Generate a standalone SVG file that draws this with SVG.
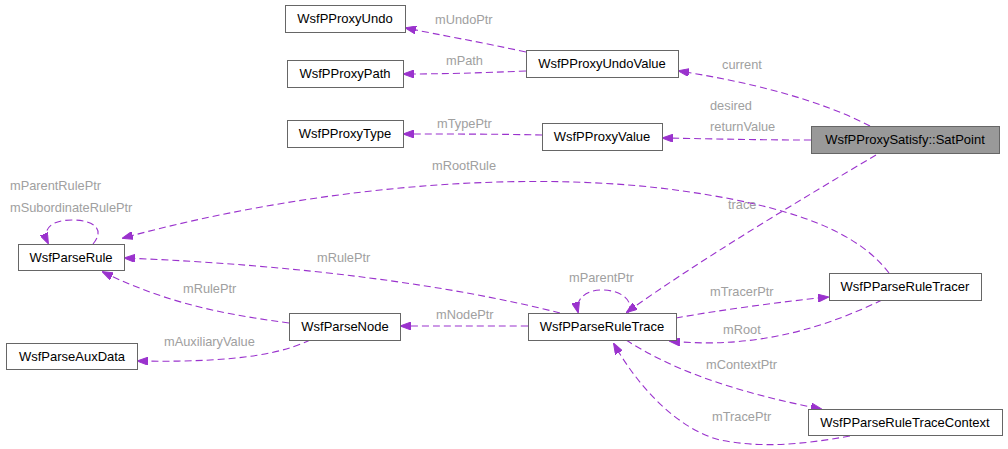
<svg xmlns="http://www.w3.org/2000/svg" width="1008" height="449" viewBox="0 0 1008 449">
<defs>
<marker id="ah" markerWidth="11" markerHeight="8" refX="10" refY="4" orient="auto" markerUnits="userSpaceOnUse"><path d="M0,0 L11,4 L0,8 z" fill="#9a32cd" stroke="#9a32cd"/></marker>
<style>
.n rect{fill:#fff;stroke:#666;stroke-width:1}
.n text{font-family:"Liberation Sans",Arial,sans-serif;font-size:13px;fill:#000;text-anchor:middle}
#e path{fill:none;stroke:#9a32cd;stroke-width:1.1;stroke-dasharray:7,4;marker-end:url(#ah)}
#e text{font-family:"Liberation Sans",Arial,sans-serif;font-size:12.8px;fill:#a0a0a0}
</style>
</defs>
<rect width="1008" height="449" fill="#fff"/>
<g id="e">
<path d="M526,52 C480,42 440,35 406,28"/>
<text x="435" y="24">mUndoPtr</text>
<path d="M526,71 C480,73 440,74 404,74"/>
<text x="446" y="65">mPath</text>
<path d="M542,135 C500,134 450,134 404,134"/>
<text x="437" y="128">mTypePtr</text>
<path d="M870,126 C820,100 750,82 679,71"/>
<text x="722" y="69">current</text>
<path d="M811,140 C760,140 720,139 663,138"/>
<text x="710" y="110">desired</text>
<text x="710" y="131">returnValue</text>
<path d="M876,155 C800,200 700,260 627,312"/>
<text x="728" y="209">trace</text>
<path d="M889,273 C860,235 800,205 660,188 C500,170 300,190 123,238"/>
<text x="432" y="170">mRootRule</text>
<path d="M93,244 C105,230 95,220 72,220 C50,220 42,230 48,243"/>
<text x="10" y="190">mParentRulePtr</text>
<text x="10" y="212">mSubordinateRulePtr</text>
<path d="M560,313 C450,285 300,265 125,258"/>
<text x="317" y="262">mRulePtr</text>
<path d="M289,323 C230,315 170,305 103,272"/>
<text x="183" y="293">mRulePtr</text>
<path d="M310,340 C270,360 200,362 138,361"/>
<text x="164" y="346">mAuxiliaryValue</text>
<path d="M528,326 C480,326 440,326 401,326"/>
<text x="436" y="319">mNodePtr</text>
<path d="M628,313 C635,300 620,290 602,290 C585,290 575,300 578,312"/>
<text x="569" y="282">mParentPtr</text>
<path d="M676,318 C720,310 780,302 828,297"/>
<text x="710" y="296">mTracerPtr</text>
<path d="M882,300 C830,325 760,350 670,341"/>
<text x="723" y="334">mRoot</text>
<path d="M626,340 C680,375 750,395 821,409"/>
<text x="706" y="369">mContextPtr</text>
<path d="M850,436 C800,445 760,448 720,440 C680,430 640,390 614,344"/>
<text x="712" y="421">mTracePtr</text>
</g>
<g id="n1" class="n"><rect x="285.5" y="5.5" width="120" height="27"/><text x="345" y="23">WsfPProxyUndo</text></g>
<g id="n2" class="n"><rect x="287.5" y="60.5" width="116" height="27"/><text x="345" y="78">WsfPProxyPath</text></g>
<g id="n3" class="n"><rect x="287.5" y="120.5" width="116" height="27"/><text x="345" y="138">WsfPProxyType</text></g>
<g id="n4" class="n"><rect x="526.5" y="50.5" width="152" height="27"/><text x="602" y="68">WsfPProxyUndoValue</text></g>
<g id="n5" class="n"><rect x="542.5" y="123.5" width="120" height="27"/><text x="602" y="141">WsfPProxyValue</text></g>
<g id="n6" class="n"><rect x="811.5" y="126.5" width="188" height="27" style="fill:#999"/><text x="905" y="144">WsfPProxySatisfy::SatPoint</text></g>
<g id="n7" class="n"><rect x="18.5" y="244.5" width="106" height="26"/><text x="71" y="262">WsfParseRule</text></g>
<g id="n8" class="n"><rect x="289.5" y="313.5" width="111" height="27"/><text x="345" y="331">WsfParseNode</text></g>
<g id="n9" class="n"><rect x="6.5" y="343.5" width="131" height="26"/><text x="72" y="361">WsfParseAuxData</text></g>
<g id="n10" class="n"><rect x="528.5" y="313.5" width="148" height="27"/><text x="602" y="331">WsfPParseRuleTrace</text></g>
<g id="n11" class="n"><rect x="829.5" y="273.5" width="152" height="27"/><text x="905" y="291">WsfPParseRuleTracer</text></g>
<g id="n12" class="n"><rect x="808.5" y="409.5" width="194" height="26"/><text x="905" y="427">WsfPParseRuleTraceContext</text></g>
</svg>
